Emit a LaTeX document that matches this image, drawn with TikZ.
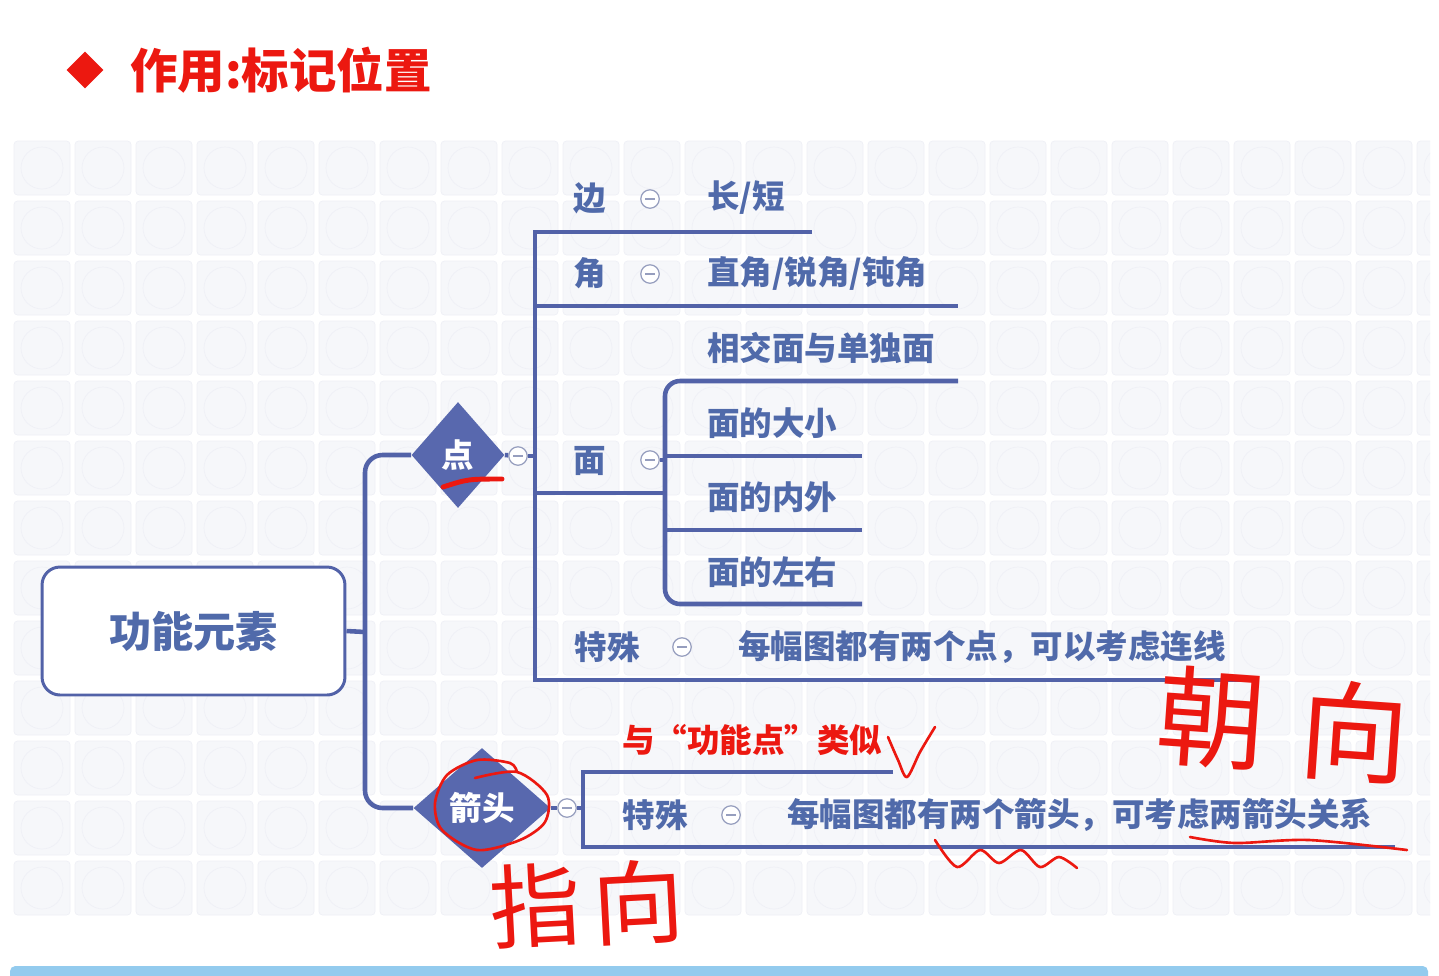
\documentclass[tikz,border=0pt]{standalone}
\usepackage{fontspec}
\setmainfont{Noto Sans CJK SC}
\usetikzlibrary{shapes.geometric}

\definecolor{mapline}{RGB}{82,98,168}
\definecolor{mapfill}{RGB}{88,104,174}
\definecolor{maptext}{RGB}{80,106,170}
\definecolor{foldgray}{RGB}{150,158,190}
\definecolor{annored}{RGB}{236,24,16}
\definecolor{tilegray}{RGB}{246,247,250}
\definecolor{tileline}{RGB}{239,240,246}
\definecolor{barblue}{RGB}{147,203,238}

\tikzset{
  branch/.style={draw=mapline,line width=2.6pt},
  leaf/.style={text=maptext,font=\bfseries\fontsize{18.5}{20}\selectfont,inner sep=0pt},
  fold/.style={circle,draw=foldgray,fill=white,line width=0.7pt,minimum size=10.5pt,inner sep=0pt,
    path picture={\draw[foldgray,line width=0.7pt]
      ([xshift=-2.6pt]path picture bounding box.center) -- ([xshift=2.6pt]path picture bounding box.center);}},
  topic/.style={diamond,fill=mapfill,text=white,inner sep=0pt,font=\bfseries\fontsize{18.5}{20}\selectfont},
  hand/.style={draw=annored,line width=1.8pt,line cap=round,line join=round},
  handtext/.style={text=annored,inner sep=0pt},
}

\begin{document}
\begin{tikzpicture}[x=0.02cm,y=-0.02cm]
  \useasboundingbox (0,0) rectangle (1439,975);
  \fill[white] (0,0) rectangle (1439,975);

  % 底纹
  \begin{scope}
    \clip (8,140) rectangle (1430,920);
    \foreach \i in {0,...,23}
      \foreach \j in {0,...,12}
        \draw[tileline,fill=tilegray,line width=0.4pt,rounded corners=2pt]
          (14+61*\i,141+60*\j) rectangle ++(56,54)
          (42+61*\i,168+60*\j) circle [radius=0.42cm];
  \end{scope}
  \fill[barblue,rounded corners=3pt] (10,966) rectangle (1428,990);

  % 标题
  \node[diamond,fill=annored,minimum width=0.74cm,minimum height=0.74cm,inner sep=0pt] (bullet) at (85,70) {};
  \node[anchor=west,text=annored,font=\bfseries\fontsize{27}{29}\selectfont,inner sep=0pt] (title) at (130,70) {作用:标记位置};

  % 中心主题
  \node[draw=mapline,line width=1.7pt,fill=white,rounded corners=0.36cm,
        minimum width=6.06cm,minimum height=2.56cm,text=maptext,
        font=\bfseries\fontsize{24}{26}\selectfont] (root) at (193.5,631) {功能元素};
  \coordinate (hub) at (365,632);

  \node[topic,minimum width=1.86cm,minimum height=2.12cm] (dian) at (458,455) {点};
  \node[topic,minimum width=2.74cm,minimum height=2.4cm] (jiantou) at (482,808) {箭头};

  \draw[branch] (root.east) -- (hub);
  \draw[branch,rounded corners=0.35cm] (dian.west) -| (hub) |- (jiantou.west);

  % 点
  \node[fold] (f-dian) at (518,456) {};
  \draw[branch] (dian.east) -- (f-dian);
  \draw[branch] (f-dian) -- (535,456);
  \draw[branch] (812,232) -- (535,232) -- (535,680) -- (1250,680);
  \draw[branch] (535,306) -- (958,306);
  \draw[branch] (535,493) -- (665,493);

  \node[leaf] (bian) at (590,198) {边};
  \node[fold] (f-bian) at (650,199) {};
  \node[leaf,anchor=west] (changduan) at (707,198) {长/短};

  \node[leaf] (jiao) at (590,273) {角};
  \node[fold] (f-jiao) at (650,274) {};
  \node[leaf,anchor=west] (jiaolei) at (707,273) {直角/锐角/钝角};

  \node[leaf] (mian) at (590,461) {面};
  \node[fold] (f-mian) at (650,460) {};
  \draw[branch] (f-mian) -- (665,460);
  \draw[branch,rounded corners=0.3cm] (958,381) -- (665,381) -- (665,604) -- (862,604);
  \draw[branch] (665,456) -- (862,456);
  \draw[branch] (665,530) -- (862,530);
  \node[leaf,anchor=west] (xiangjiao) at (707,348) {相交面与单独面};
  \node[leaf,anchor=west] (daxiao) at (707,423) {面的大小};
  \node[leaf,anchor=west] (neiwai) at (707,497) {面的内外};
  \node[leaf,anchor=west] (zuoyou) at (707,572) {面的左右};

  \node[leaf] (teshu1) at (607,647) {特殊};
  \node[fold] (f-teshu1) at (682,647) {};
  \node[leaf,anchor=west] (lianxian) at (738,647) {每幅图都有两个点，可以考虑连线};

  % 箭头
  \node[fold] (f-jiantou) at (567,808) {};
  \draw[branch] (jiantou.east) -- (f-jiantou);
  \draw[branch] (f-jiantou) -- (583,808);
  \draw[branch] (893,772) -- (583,772) -- (583,847) -- (1395,847);

  \node[leaf,text=annored,anchor=west] (leisi) at (622,740) {与“功能点”类似};
  \node[leaf] (teshu2) at (655,815) {特殊};
  \node[fold] (f-teshu2) at (731,815) {};
  \node[leaf,anchor=west] (guanxi) at (787,815) {每幅图都有两个箭头，可考虑两箭头关系};

  % 手写批注
  \draw[hand,line width=2.8pt] (443,487) .. controls (468,479) .. (502,479);
  \draw[hand,line width=1.5pt] plot[smooth] coordinates {(475,778) (517,772) (547,795) (545,822)
    (520,840) (477,850) (442,830) (435,803) (447,775) (477,760) (510,763) (517,772)};
  \draw[hand,line width=1.5pt] plot[smooth] coordinates {(888,737) (898,760) (907,777) (920,752) (935,727)};
  \draw[hand,line width=1.5pt] plot[smooth] coordinates {(935,840) (957,867) (980,850) (999,863)
    (1021,850) (1040,867) (1059,857) (1077,868)};
  \draw[hand,line width=1.5pt] plot[smooth] coordinates {(1190,837) (1235,843) (1309,840) (1407,850)};

  \node[handtext,font=\fontsize{62}{64}\selectfont,rotate=-4] (chao) at (1212,718) {朝};
  \node[handtext,font=\fontsize{62}{64}\selectfont,rotate=-4] (xiang1) at (1355,732) {向};
  \node[handtext,font=\fontsize{52}{54}\selectfont,rotate=3] (zhi) at (535,905) {指};
  \node[handtext,font=\fontsize{52}{54}\selectfont,rotate=3] (xiang2) at (638,902) {向};
\end{tikzpicture}
\end{document}
